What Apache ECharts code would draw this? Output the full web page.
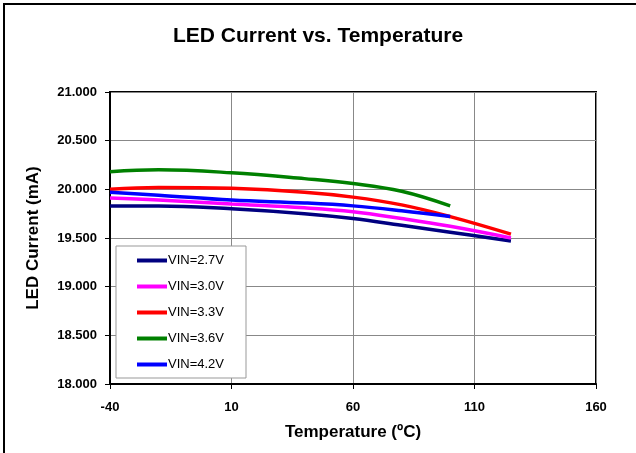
<!DOCTYPE html>
<html>
<head>
<meta charset="utf-8">
<script src="https://cdn.jsdelivr.net/npm/echarts@6/dist/echarts.min.js"></script>
<style>
html, body { margin: 0; padding: 0; background: #fff; }
#main { width: 636px; height: 453px; }
</style>
</head>
<body>
<div id="main"></div>
<script>
// 数据
var temps = [-40, -20, 10, 40, 60, 80, 100, 125];
var vin27 = [19.83, 19.83, 19.80, 19.75, 19.70, 19.63, 19.56, 19.47];
var vin30 = [19.91, 19.89, 19.85, 19.81, 19.77, 19.70, 19.62, 19.50];
var vin33 = [20.00, 20.02, 20.01, 19.97, 19.92, 19.84, 19.72, 19.54];
var vin36 = [20.18, 20.20, 20.17, 20.11, 20.06, 19.98, 19.83];
var vin42 = [19.97, 19.94, 19.89, 19.86, 19.83, 19.78, 19.72];

var names = ['VIN=2.7V', 'VIN=3.0V', 'VIN=3.3V', 'VIN=3.6V', 'VIN=4.2V'];
var colors = ['#000080', '#ff00ff', '#ff0000', '#008000', '#0000ff'];
var values = [vin27, vin30, vin33, vin36, vin42];

function pairs(v) {
    return v.map(function (y, i) { return [temps[i], y]; });
}

var myChart = echarts.init(document.getElementById('main'));
var font = 'Liberation Sans, Arial, sans-serif';

option = {
    animation: false,
    backgroundColor: '#fff',
    color: colors,
    title: {
        text: 'LED Current vs. Temperature',
        left: 'center',
        top: 21,
        textStyle: {fontFamily: font, fontSize: 21, fontWeight: 'bold', color: '#000'}
    },
    graphic: [{
        type: 'rect',
        shape: {x: 4, y: 4, width: 660, height: 480},
        style: {fill: 'none', stroke: '#000', lineWidth: 2}
    }],
    legend: {
        orient: 'vertical',
        left: 116,
        top: 246,
        itemWidth: 30,
        itemHeight: 4,
        itemGap: 13,
        padding: [8, 22, 7, 21],
        backgroundColor: '#fff',
        borderColor: '#999',
        borderWidth: 1,
        borderRadius: 0,
        icon: 'rect',
        textStyle: {fontFamily: font, fontSize: 13, color: '#000', padding: [0, 0, 0, -4]},
        data: names
    },
    grid: {left: 110, right: 40, top: 92, bottom: 69, containLabel: false, show: true, borderColor: '#000', borderWidth: 2},
    xAxis: {
        type: 'value',
        min: -40, max: 160, interval: 50,
        name: 'Temperature (ºC)',
        nameLocation: 'middle',
        nameGap: 40,
        nameTextStyle: {fontFamily: font, fontSize: 17, fontWeight: 'bold', color: '#000'},
        axisLine: {onZero: false, lineStyle: {color: '#000', width: 2}},
        axisTick: {show: true, length: 5, inside: false, lineStyle: {color: '#000'}},
        axisLabel: {fontFamily: font, fontSize: 13, fontWeight: 'bold', color: '#000', margin: 17},
        splitLine: {show: true, lineStyle: {color: '#888', width: 1}}
    },
    yAxis: {
        type: 'value',
        min: 18, max: 21, interval: 0.5,
        name: 'LED Current (mA)',
        nameLocation: 'middle',
        nameGap: 68,
        nameTextStyle: {fontFamily: font, fontSize: 17, fontWeight: 'bold', color: '#000'},
        axisLine: {onZero: false, lineStyle: {color: '#000', width: 2}},
        axisTick: {show: true, length: 5, lineStyle: {color: '#000'}},
        axisLabel: {
            fontFamily: font, fontSize: 13, fontWeight: 'bold', color: '#000', margin: 13,
            formatter: function (v) { return v.toFixed(3); }
        },
        splitLine: {show: true, lineStyle: {color: '#888', width: 1}}
    },
    series: values.map(function (v, i) {
        return {
            name: names[i],
            type: 'line',
            smooth: 0.4,
            symbol: 'none',
            lineStyle: {width: 3.5, color: colors[i]},
            data: pairs(v)
        };
    })
};

myChart.setOption(option);
</script>
</body>
</html>
